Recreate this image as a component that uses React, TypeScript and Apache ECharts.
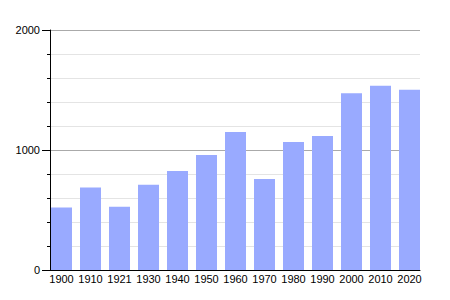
import React, { useEffect, useRef } from "react";
import * as echarts from "echarts";

const years = ["1900", "1910", "1921", "1930", "1940", "1950", "1960", "1970", "1980", "1990", "2000", "2010", "2020"];
const population = [520, 688, 527, 710, 825, 958, 1150, 758, 1067, 1117, 1473, 1536, 1503];
const yTicks = [0, 1000, 2000];

export default function App() {
  const ref = useRef<HTMLDivElement>(null);
  useEffect(() => {
    if (!ref.current) return;
    const chart = echarts.init(ref.current, null, { renderer: "svg" });
    const font = { fontFamily: "Liberation Sans, Arial, sans-serif", fontSize: 11, color: "#000" };
    chart.setOption({
      animation: false,
      grid: [
        { left: 50, right: 30, top: 30, bottom: 30 },
        { left: 47, width: 377, top: 30, bottom: 30 },
      ],
      xAxis: [
        {
          type: "category",
          gridIndex: 0,
          data: years,
          axisLine: { lineStyle: { color: "#000", width: 1 } },
          axisTick: { show: false },
          axisLabel: { show: false },
        },
        {
          type: "category",
          gridIndex: 1,
          data: years,
          axisLine: { show: false },
          axisTick: { show: false },
          axisLabel: { ...font, margin: 3, interval: 0 },
        },
      ],
      yAxis: [
        {
          type: "value",
          gridIndex: 0,
          min: 0,
          max: 2000,
          interval: 1000,
          axisLine: { show: true, lineStyle: { color: "#000", width: 1 } },
          axisTick: { show: true, length: 8, lineStyle: { color: "#000" } },
          minorTick: { show: true, splitNumber: 5, length: 3, lineStyle: { color: "#000" } },
          splitLine: { show: true, lineStyle: { color: "#aaaaaa", width: 1 } },
          minorSplitLine: { show: true, lineStyle: { color: "#e4e4e4", width: 1 } },
          axisLabel: {
            ...font,
            margin: 10,
            formatter: (v: number) => (yTicks.includes(v) ? String(v) : ""),
          },
        },
        {
          type: "value",
          gridIndex: 1,
          min: 0,
          max: 2000,
          show: false,
        },
      ],
      series: [
        {
          type: "bar",
          xAxisIndex: 1,
          yAxisIndex: 1,
          data: population,
          barWidth: 21,
          itemStyle: { color: "#99aaff" },
        },
      ],
    });
    return () => chart.dispose();
  }, []);
  return <div ref={ref} style={{ width: 450, height: 300, margin: -8 }} />;
}
